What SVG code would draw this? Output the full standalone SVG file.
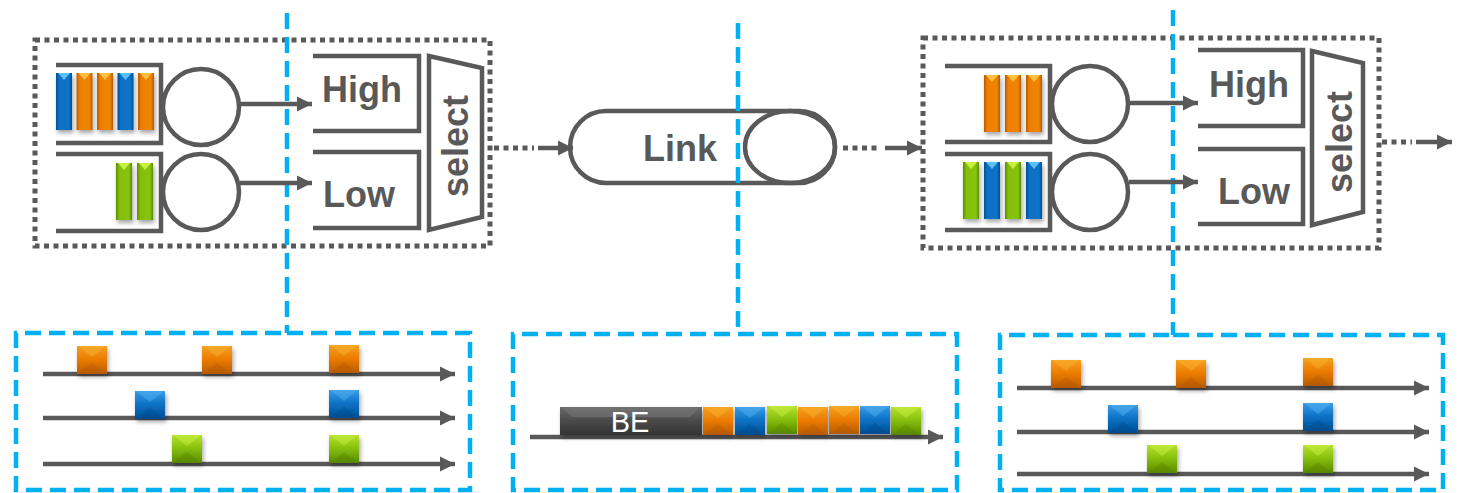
<svg xmlns="http://www.w3.org/2000/svg" xmlns:xlink="http://www.w3.org/1999/xlink" width="1466" height="493" viewBox="0 0 1466 493">
<style>
.g{fill:none;stroke:#595959;stroke-width:4.5}
.dot{fill:none;stroke:#595959;stroke-width:5;stroke-dasharray:5 4.5}
.bl{fill:none;stroke:#00B0F0;stroke-width:4.5;stroke-dasharray:16 8}
.t{font-family:"Liberation Sans",Arial,sans-serif;font-weight:bold;font-size:36px;fill:#595959}
.be{font-family:"Liberation Sans",Arial,sans-serif;font-size:29px;fill:#ffffff;text-anchor:middle}
</style>
<defs>
<filter id="sh" x="-30%" y="-30%" width="160%" height="160%"><feDropShadow dx="1.5" dy="3" stdDeviation="2" flood-color="#000" flood-opacity="0.35"/></filter>
<marker id="ah" markerUnits="userSpaceOnUse" markerWidth="16" markerHeight="16" viewBox="0 0 16 16" refX="15" refY="8" orient="auto"><path d="M0,0.5 L15,8 L0,15.5 Z" fill="#595959"/></marker>
<linearGradient id="bO" x1="0" y1="0" x2="1" y2="0"><stop offset="0" stop-color="#B85A00"/><stop offset="0.2" stop-color="#EE7E00"/><stop offset="0.8" stop-color="#F08500"/><stop offset="1" stop-color="#B85A00"/></linearGradient>
<linearGradient id="bB" x1="0" y1="0" x2="1" y2="0"><stop offset="0" stop-color="#004F94"/><stop offset="0.2" stop-color="#0A70C4"/><stop offset="0.8" stop-color="#0A74C8"/><stop offset="1" stop-color="#004F94"/></linearGradient>
<linearGradient id="bG" x1="0" y1="0" x2="1" y2="0"><stop offset="0" stop-color="#5A8C00"/><stop offset="0.2" stop-color="#84BE0A"/><stop offset="0.8" stop-color="#88C410"/><stop offset="1" stop-color="#5A8C00"/></linearGradient>
<linearGradient id="sO" x1="0" y1="0" x2="0" y2="1"><stop offset="0" stop-color="#F5A020"/><stop offset="0.5" stop-color="#EB7A00"/><stop offset="1" stop-color="#B85C00"/></linearGradient>
<linearGradient id="sB" x1="0" y1="0" x2="0" y2="1"><stop offset="0" stop-color="#3A9AE6"/><stop offset="0.5" stop-color="#0A70C4"/><stop offset="1" stop-color="#004E92"/></linearGradient>
<linearGradient id="sG" x1="0" y1="0" x2="0" y2="1"><stop offset="0" stop-color="#B6E030"/><stop offset="0.5" stop-color="#84BE0A"/><stop offset="1" stop-color="#5A8A00"/></linearGradient>
<linearGradient id="sK" x1="0" y1="0" x2="0" y2="1"><stop offset="0" stop-color="#6A6A6A"/><stop offset="0.5" stop-color="#4A4A4A"/><stop offset="1" stop-color="#333333"/></linearGradient>
<symbol id="barO" overflow="visible"><rect width="16" height="57" fill="url(#bO)"/><path d="M2,0 H14 L8,7 Z" fill="#FFC040"/></symbol>
<symbol id="barB" overflow="visible"><rect width="16" height="57" fill="url(#bB)"/><path d="M2,0 H14 L8,7 Z" fill="#5CC0F8"/></symbol>
<symbol id="barG" overflow="visible"><rect width="16" height="57" fill="url(#bG)"/><path d="M2,0 H14 L8,7 Z" fill="#C8F040"/></symbol>
<symbol id="sqO" overflow="visible"><rect width="30" height="28" fill="url(#sO)"/><path d="M1,0 H29 L15,11 Z" fill="#FAB030" opacity="0.5"/><path d="M1,28 H29 L15,17 Z" fill="#A85000" opacity="0.25"/></symbol>
<symbol id="sqB" overflow="visible"><rect width="30" height="28" fill="url(#sB)"/><path d="M1,0 H29 L15,11 Z" fill="#50B0F0" opacity="0.5"/><path d="M1,28 H29 L15,17 Z" fill="#003E80" opacity="0.25"/></symbol>
<symbol id="sqG" overflow="visible"><rect width="30" height="28" fill="url(#sG)"/><path d="M1,0 H29 L15,11 Z" fill="#C8F040" opacity="0.5"/><path d="M1,28 H29 L15,17 Z" fill="#4A7800" opacity="0.25"/></symbol>
</defs>

<g id="node-left-switch">
<rect class="dot" x="35" y="40" width="455" height="206"/>
<path class="g" d="M56,65 H161 V143 H56"/>
<path class="g" d="M56,154 H161 V231 H56"/>
<g filter="url(#sh)">
<use href="#barB" x="56" y="73"/><use href="#barO" x="76.5" y="73"/><use href="#barO" x="97" y="73"/><use href="#barB" x="117.5" y="73"/><use href="#barO" x="138" y="73"/>
<use href="#barG" x="116" y="163"/><use href="#barG" x="137" y="163"/>
</g>
<circle class="g" cx="201" cy="107" r="38"/>
<circle class="g" cx="201" cy="192" r="38"/>
<path class="g" d="M313,56 H419 V131 H313"/>
<path class="g" d="M313,152 H419 V228 H313"/>
<text class="t" x="322" y="102">High</text>
<text class="t" x="323" y="207">Low</text>
<polygon class="g" points="429,56 482,68 482,217 429,230"/>
<text class="t" text-anchor="middle" transform="translate(468,146) rotate(-90)">select</text>
</g>

<g id="node-link">
<rect class="g" x="570" y="111" width="265" height="72" rx="36"/>
<ellipse class="g" cx="790" cy="147" rx="45" ry="36"/>
<text class="t" x="643" y="161">Link</text>
</g>

<g id="node-right-switch">
<rect class="dot" x="923" y="38" width="456" height="210"/>
<path class="g" d="M945,66 H1050 V142 H945"/>
<path class="g" d="M945,154 H1050 V230 H945"/>
<g filter="url(#sh)">
<use href="#barO" x="984" y="75"/><use href="#barO" x="1005" y="75"/><use href="#barO" x="1026" y="75"/>
<use href="#barG" x="963" y="162"/><use href="#barB" x="984" y="162"/><use href="#barG" x="1005" y="162"/><use href="#barB" x="1026" y="162"/>
</g>
<circle class="g" cx="1090" cy="104" r="38"/>
<circle class="g" cx="1090" cy="192" r="38"/>
<path class="g" d="M1198,50 H1303 V126 H1198"/>
<path class="g" d="M1198,149 H1303 V224 H1198"/>
<text class="t" x="1209" y="97">High</text>
<text class="t" x="1218" y="204">Low</text>
<polygon class="g" points="1312,51 1363,63 1363,212 1312,225"/>
<text class="t" text-anchor="middle" transform="translate(1352,142) rotate(-90)">select</text>
</g>

<g id="node-timeline-left">
<path class="bl" d="M287,13 V333 M287,333 H470 V490 H16 V333 H287"/>
<g class="g" stroke-width="3.5"><line x1="43" y1="374" x2="455" y2="374" marker-end="url(#ah)"/><line x1="43" y1="418" x2="455" y2="418" marker-end="url(#ah)"/><line x1="43" y1="464" x2="455" y2="464" marker-end="url(#ah)"/></g>
<g filter="url(#sh)">
<use href="#sqO" x="77" y="346"/><use href="#sqO" x="202" y="346"/><use href="#sqO" x="329" y="345"/>
<use href="#sqB" x="135" y="391"/><use href="#sqB" x="329" y="390"/>
<use href="#sqG" x="172" y="435"/><use href="#sqG" x="329" y="435"/>
</g>
</g>

<g id="node-timeline-middle">
<path class="bl" d="M738,23 V334 M738,334 H957 V490 H513 V334 H738"/>
<line class="g" stroke-width="3.5" x1="530" y1="437" x2="943" y2="437" marker-end="url(#ah)"/>
<g filter="url(#sh)">
<rect x="560" y="407" width="142" height="28" fill="url(#sK)"/>
<path d="M561,407 H701 L690,417 H572 Z" fill="#7A7A7A" opacity="0.5"/>
<use href="#sqO" x="703" y="407"/><use href="#sqB" x="735" y="407"/><use href="#sqG" x="767" y="406"/><use href="#sqO" x="798" y="407"/><use href="#sqO" x="829" y="406"/><use href="#sqB" x="860" y="406"/><use href="#sqG" x="891" y="407"/>
</g>
<text class="be" x="630" y="432">BE</text>
</g>

<g id="node-timeline-right">
<path class="bl" d="M1173,10 V335 M1173,335 H1443 V490 H1000 V335 H1173"/>
<g class="g" stroke-width="3.5"><line x1="1017" y1="388" x2="1429" y2="388" marker-end="url(#ah)"/><line x1="1017" y1="432" x2="1429" y2="432" marker-end="url(#ah)"/><line x1="1017" y1="474" x2="1429" y2="474" marker-end="url(#ah)"/></g>
<g filter="url(#sh)">
<use href="#sqO" x="1051" y="360"/><use href="#sqO" x="1176" y="360"/><use href="#sqO" x="1303" y="358"/>
<use href="#sqB" x="1108" y="405"/><use href="#sqB" x="1303" y="403"/>
<use href="#sqG" x="1147" y="445"/><use href="#sqG" x="1303" y="445"/>
</g>
</g>

<g id="connectors">
<line class="g" x1="240" y1="104" x2="312" y2="104" marker-end="url(#ah)"/>
<line class="g" x1="240" y1="183" x2="312" y2="183" marker-end="url(#ah)"/>
<line class="g" x1="1129" y1="103" x2="1198" y2="103" marker-end="url(#ah)"/>
<line class="g" x1="1129" y1="182" x2="1198" y2="182" marker-end="url(#ah)"/>
<line class="dot" x1="494" y1="148" x2="534" y2="148"/>
<line class="g" x1="538" y1="148" x2="573" y2="148" marker-end="url(#ah)"/>
<line class="dot" x1="843" y1="148" x2="881" y2="148"/>
<line class="g" x1="885" y1="148" x2="922" y2="148" marker-end="url(#ah)"/>
<line class="dot" x1="1382" y1="142" x2="1412" y2="142"/>
<line class="g" x1="1416" y1="142" x2="1452" y2="142" marker-end="url(#ah)"/>
</g>
</svg>
